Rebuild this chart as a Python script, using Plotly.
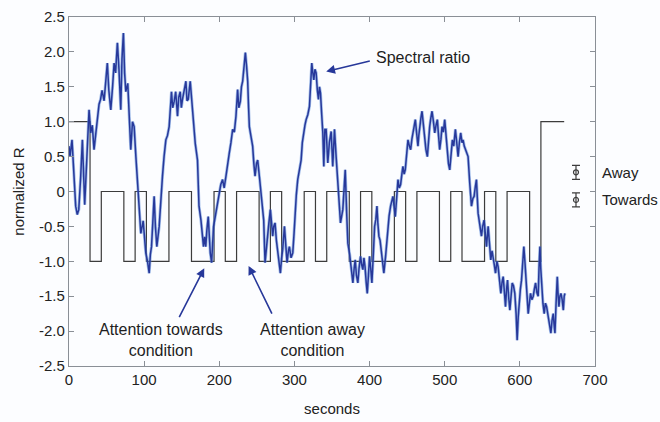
import plotly.graph_objects as go

# ---------------- data ----------------
time_s = [0, 1.3, 4, 6, 8.9, 11, 13, 15.5, 17.8, 20.9, 24.4, 26.7, 28.9, 31, 33.3, 35.5, 37.8, 40, 42, 44,
          46.7, 49, 51, 53, 55.6, 58, 60, 62, 64.4, 66.5, 68.9, 70.5, 72.4, 74, 75.6, 78.2, 80, 82.2, 84.5, 86.7,
          89, 91.1, 93.5, 95.6, 98.7, 100.5, 102.2, 104.5, 106.7, 108.3, 109.8, 111.5, 113.3, 115, 116.9, 120,
          122, 124.4, 126.5, 128.9, 131, 133.3, 136.4, 138, 140, 142, 144.4, 146, 148, 149.5, 151, 153, 155.6,
          157, 158.7, 161.3, 164.4, 166, 168, 171, 173, 175.6, 177, 179, 180.5, 182, 183.5, 185.3, 188, 189.8,
          192.4, 195.6, 198, 200, 202, 204.4, 206.5, 208.9, 211, 213.3, 215.5, 217.8, 220, 222.2, 224.4, 226,
          228, 229.5, 231.1, 233, 234.7, 236.3, 237.8, 239, 240, 242, 244.4, 246, 247.6, 249.5, 251.1, 253.5,
          255.6, 257.5, 259.1, 260.9, 262.5, 264.4, 266, 268, 269.5, 271.1, 272.5, 274.2, 276, 277.8, 279.5,
          281.3, 283, 284.4, 286.7, 288.5, 290.2, 292, 293.3, 295.5, 297.8, 299.5, 300.9, 302.5, 304.4, 306.5,
          308.9, 310.5, 312.4, 314, 315.6, 317.8, 320, 321.5, 323.1, 324.5, 325.8, 327.3, 328.9, 330.5, 332,
          333.3, 334.7, 336.3, 337.8, 339.1, 340.5, 342.2, 344.4, 346.5, 348.9, 351, 353.3, 355.5, 357.8, 359.5,
          361.3, 364.4, 366, 367.6, 369.5, 371.1, 373.5, 375.6, 377.8, 379.5, 380.9, 382.5, 384.4, 386, 388,
          389.5, 391.1, 392.5, 394, 395.5, 396.9, 398.5, 400, 401.5, 403.1, 405, 406.7, 408.3, 409.8, 411,
          412.4, 414, 415.6, 417.3, 419, 421.3, 423, 424.4, 426, 428, 429.5, 431.1, 432.5, 434.2, 436, 437.8,
          439.5, 441.3, 443, 444.4, 446, 447.5, 449.5, 451.1, 453, 454.7, 456.3, 457.8, 459.5, 460.9, 462.5,
          464.4, 465.5, 466.7, 468.3, 469.8, 471.5, 473.3, 475, 476.9, 478.5, 480, 481.5, 483.1, 485, 486.7,
          488.5, 490.2, 491.8, 493.3, 495, 496.4, 498.2, 500, 501.8, 503.6, 505, 506.7, 508.5, 510.2, 512,
          514.2, 516, 517.8, 519.5, 521.3, 523, 524.4, 526, 527.6, 529.5, 531.1, 533.3, 535.6, 537.5, 539.1,
          540.5, 542.2, 544.4, 546.5, 548.9, 550.5, 552.4, 554, 555.6, 557.8, 559.5, 561.3, 563, 564.4, 566,
          567.6, 569.5, 571.1, 573, 574.7, 576.3, 577.8, 579.5, 580.9, 582.3, 583.6, 585, 586.7, 588.3, 589.8,
          591.5, 593.3, 595, 596.4, 597.8, 599.1, 600.7, 602.2, 603.8, 605.3, 606.7, 608, 609.5, 611.1, 612.7,
          614.2, 616, 617.8, 619.3, 620.9, 622.7, 624.4, 625.5, 626.7, 627.8, 628.9, 630.7, 632.4, 634, 635.6,
          637.2, 638.7, 640, 641.3, 642.8, 644.4, 645.5, 646.7, 648.2, 649.8, 651, 652, 653.3, 654.7, 656.3,
          657.8, 659, 660]
spectral_ratio = [0.65, 0.5, 0.74, 0.3, -0.21, -0.33, -0.26, 0.2, 0.74, -0.19, 0.6, 1.17, 0.84, 0.95, 0.6, 0.85,
                  1.03, 1.25, 1.32, 1.45, 1.3, 1.55, 1.84, 1.45, 1.17, 1.5, 1.84, 1.7, 2.13, 1.75, 1.17, 1.9, 2.27,
                  1.7, 1.43, 1.55, 1.1, 0.6, 1.0, 0.93, 0.5, 0.17, -0.2, -0.6, -0.42, -0.65, -0.88, -1.0, -1.17,
                  -0.9, -0.79, -0.45, -0.07, -0.5, -0.79, -0.5, -0.1, 0.22, 0.5, 0.74, 0.8, 0.93, 1.43, 1.2, 1.29,
                  1.43, 1.08, 1.35, 1.43, 1.2, 1.32, 1.45, 1.58, 1.3, 1.32, 1.58, 1.12, 0.95, 0.69, 0.45, -0.21,
                  -0.41, -0.6, -0.79, -0.65, -0.79, -0.55, -0.36, -0.88, -1.02, -0.5, -0.31, -0.15, -0.02, 0.1,
                  0.17, 0.05, 0.22, 0.35, 0.55, 0.7, 0.89, 0.85, 1.08, 1.46, 1.2, 1.29, 1.5, 1.58, 1.75, 1.99, 1.8,
                  1.58, 1.2, 0.93, 0.8, 0.65, 0.4, 0.22, 0.4, 0.45, 0.2, -0.02, -0.2, -0.41, -1.02, -0.8, -0.64,
                  -0.45, -0.26, -0.5, -0.64, -0.5, -0.45, -0.7, -0.88, -1.0, -1.17, -0.95, -0.83, -0.5, -0.85,
                  -1.02, -0.85, -0.79, -0.95, -0.88, -0.6, -0.31, -0.05, 0.17, 0.3, 0.45, 0.7, 0.89, 0.95, 1.03,
                  1.1, 1.22, 1.5, 1.84, 1.7, 1.6, 1.75, 1.7, 1.45, 1.32, 1.5, 1.41, 1.1, 0.84, 0.36, 0.89, 0.89,
                  0.41, 0.7, 0.86, 0.36, 0.89, 0.5, 0.17, -0.1, -0.45, -0.26, 0.1, 0.31, -0.3, -0.74, -0.9, -1.08,
                  -1.31, -1.1, -0.98, -1.2, -1.31, -1.1, -0.93, -1.05, -1.12, -0.95, -1.08, -1.3, -1.46, -1.2,
                  -0.93, -1.1, -1.31, -0.9, -0.5, -0.4, -0.21, -0.45, -0.64, -0.7, -0.88, -1.0, -1.17, -0.93, -0.7,
                  -0.5, -0.35, -0.21, -0.15, -0.07, -0.2, -0.36, -0.1, 0.17, 0.05, 0.1, 0.25, 0.36, 0.25, 0.31,
                  0.55, 0.74, 0.65, 0.6, 0.75, 0.84, 0.9, 1.03, 0.85, 0.65, 0.8, 0.93, 1.05, 1.15, 0.95, 0.69, 0.6,
                  0.5, 0.75, 0.93, 1.05, 1.15, 1.0, 0.84, 0.95, 1.03, 0.8, 0.6, 0.75, 0.93, 0.85, 1.03, 0.8, 0.5,
                  0.4, 0.31, 0.55, 0.74, 0.65, 0.89, 0.7, 0.5, 0.7, 0.84, 0.7, 0.74, 0.65, 0.6, 0.55, 0.5, 0.12,
                  -0.21, -0.1, -0.07, 0.05, 0.17, -0.31, -0.45, -0.64, -0.5, -0.41, -0.6, -0.79, -0.5, -0.75,
                  -0.98, -0.85, -0.93, -1.05, -1.17, -1.0, -1.08, -1.25, -1.46, -1.3, -1.22, -1.45, -1.65, -1.4,
                  -1.27, -1.5, -1.7, -1.5, -1.31, -1.35, -1.46, -1.75, -2.13, -1.8, -1.55, -1.4, -1.27, -1.0, -0.79,
                  -1.0, -1.27, -1.5, -1.75, -1.6, -1.46, -1.55, -1.5, -1.4, -1.31, -1.45, -1.5, -1.1, -0.79, -1.1,
                  -1.36, -1.6, -1.75, -1.6, -1.65, -1.75, -1.84, -1.9, -2.03, -1.85, -1.75, -1.9, -2.03, -1.6,
                  -1.22, -1.5, -1.65, -1.5, -1.46, -1.55, -1.7, -1.5, -1.46]

# condition boxcar (level holds from each time until the next)
step_times = [0, 28, 43, 73, 88, 103, 133, 163, 193, 208, 223, 253, 268, 283, 313, 328, 343, 373, 388, 403,
              433, 448, 463, 493, 508, 523, 553, 568, 583, 613, 628, 659]
step_levels = [1, -1, 0, -1, 0, -1, 0, -1, 0, -1, 0, -1, 0, -1, 0, -1, 0, -1, 0, -1,
               0, -1, 0, -1, 0, -1, 0, -1, 0, -1, 1, 1]

x_ticks = [0, 100, 200, 300, 400, 500, 600, 700]
y_ticks = [-2.5, -2.0, -1.5, -1.0, -0.5, 0, 0.5, 1.0, 1.5, 2.0, 2.5]
y_tick_labels = ["-2.5", "-2.0", "-1.5", "-1.0", "-0.5", "0", "0.5", "1.0", "1.5", "2.0", "2.5"]
legend_names = ["Away", "Towards"]

# ---------------- figure ----------------
FONT = "Liberation Sans, Arial, sans-serif"
NAVY = "#27389a"
GREY = "#3c3c3c"
AX = "#8a8f96"

fig = go.Figure()

fig.add_trace(go.Scatter(x=step_times, y=step_levels, mode="lines", line_shape="hv",
                         line=dict(color=GREY, width=1.2), showlegend=False, hoverinfo="skip"))
fig.add_trace(go.Scatter(x=time_s, y=spectral_ratio, mode="lines",
                         line=dict(color="#5a8ad8", width=3.0), opacity=0.55,
                         showlegend=False, hoverinfo="skip"))
fig.add_trace(go.Scatter(x=time_s, y=spectral_ratio, mode="lines",
                         line=dict(color=NAVY, width=1.5), showlegend=False))

# legend keys (error-bar glyphs) drawn just inside the right frame
key_x = 674.7
key_y = [0.275, -0.12]
fig.add_trace(go.Scatter(x=[key_x, key_x], y=key_y, mode="markers", cliponaxis=False,
                         marker=dict(symbol="circle-open", size=5, color=GREY, line=dict(width=1.2)),
                         error_y=dict(type="constant", value=0.1, color=GREY, thickness=1.2, width=4),
                         showlegend=False, hoverinfo="skip"))

for name, yy in zip(legend_names, key_y):
    fig.add_annotation(x=1.0, xref="paper", y=yy, yref="y", xshift=5, text=name, showarrow=False,
                       xanchor="left", yanchor="middle", font=dict(family=FONT, size=15, color="#222"))

ann_font = dict(family=FONT, size=16, color="#1e1e1e")
fig.add_annotation(x=406, y=1.92, text="Spectral ratio", showarrow=False, xanchor="left",
                   yanchor="middle", font=ann_font)
fig.add_annotation(x=122.7, y=-2.13, text="Attention towards<br>condition", showarrow=False,
                   xanchor="center", yanchor="middle", font=ann_font)
fig.add_annotation(x=324, y=-2.13, text="Attention away<br>condition", showarrow=False,
                   xanchor="center", yanchor="middle", font=ann_font)

arrows = [((342.3, 1.72), (402.3, 1.875)),
          ((180, -1.10), (145.7, -1.82)),
          ((239, -1.066), (271, -1.77))]
for (hx, hy), (tx, ty) in arrows:
    fig.add_annotation(x=hx, y=hy, ax=tx, ay=ty, xref="x", yref="y", axref="x", ayref="y",
                       text="", showarrow=True, arrowhead=2, arrowsize=1.1, arrowwidth=1.6,
                       arrowcolor=NAVY)

fig.update_layout(
    width=660, height=422,
    margin=dict(l=69, r=65, t=17, b=56),
    paper_bgcolor="#fcfdff", plot_bgcolor="#fcfdff",
    font=dict(family=FONT, size=15, color="#222"),
    showlegend=False,
)
fig.update_xaxes(range=[0, 700], tickvals=x_ticks, ticks="inside", ticklen=5, tickcolor=AX,
                 showline=True, linecolor=AX, linewidth=1.2, mirror="allticks", showgrid=False,
                 zeroline=False, tickfont=dict(size=15), automargin=False,
                 title=dict(text="seconds", font=dict(size=15), standoff=16))
fig.update_yaxes(range=[-2.5, 2.5], tickvals=y_ticks, ticktext=y_tick_labels, ticks="inside", ticklen=5,
                 tickcolor=AX, showline=True, linecolor=AX, linewidth=1.2, mirror="allticks",
                 showgrid=False, zeroline=False, tickfont=dict(size=15), automargin=False,
                 title=dict(text="normalized R", font=dict(size=15), standoff=10))

fig.write_html("out.html", config={"displayModeBar": False},
               post_script="document.body.style.margin='0';document.body.style.background='#fcfdff';")
